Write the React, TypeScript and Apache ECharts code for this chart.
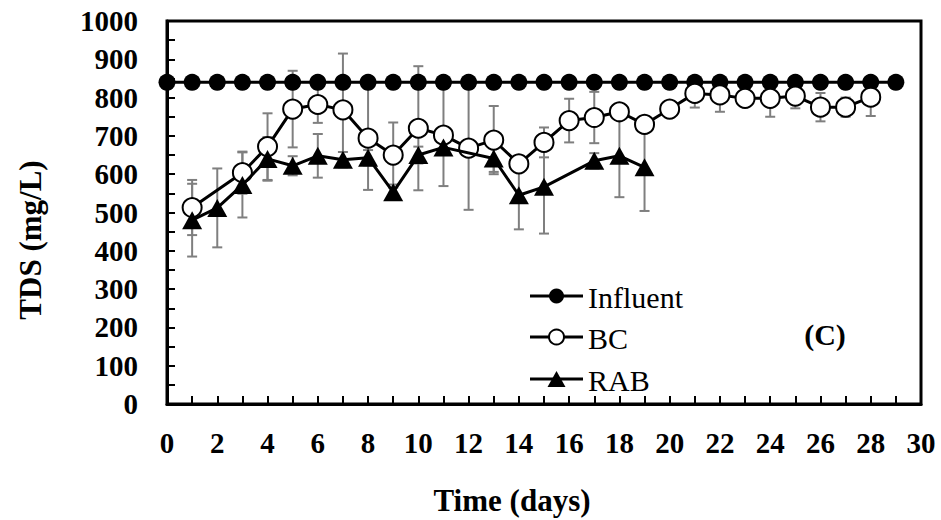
import React, { useEffect, useRef } from "react";
import * as echarts from "echarts";

const influentDays = [0, 1, 2, 3, 4, 5, 6, 7, 8, 9, 10, 11, 12, 13, 14, 15, 16, 17, 18, 19, 20, 21, 22, 23, 24, 25, 26, 27, 28, 29];
const influentValues = [840, 840, 840, 840, 840, 840, 840, 840, 840, 840, 840, 840, 840, 840, 840, 840, 840, 840, 840, 840, 840, 840, 840, 840, 840, 840, 840, 840, 840, 840];

const bcDays = [1, 3, 4, 5, 6, 7, 8, 9, 10, 11, 12, 13, 14, 15, 16, 17, 18, 19, 20, 21, 22, 23, 24, 25, 26, 27, 28];
const bcValues = [513, 604, 672, 770, 782, 768, 694, 650, 720, 702, 668, 689, 627, 683, 740, 748, 763, 730, 770, 811, 807, 798, 798, 804, 775, 775, 801];
const bcErrors = [72, 55, 87, 100, 48, 147, 135, 85, 162, 133, 161, 89, 0, 39, 57, 67, 0, 0, 0, 37, 44, 0, 48, 32, 37, 25, 49];

const rabDays = [1, 2, 3, 4, 5, 6, 7, 8, 9, 10, 11, 13, 14, 15, 17, 18, 19];
const rabValues = [480, 512, 572, 640, 622, 648, 638, 643, 553, 650, 670, 641, 545, 567, 635, 648, 618];
const rabErrors = [95, 103, 85, 57, 25, 57, 20, 20, 20, 22, 20, 35, 89, 122, 20, 108, 114];

const xTickValues = [0, 2, 4, 6, 8, 10, 12, 14, 16, 18, 20, 22, 24, 26, 28, 30];
const yTickValues = [0, 100, 200, 300, 400, 500, 600, 700, 800, 900, 1000];

const seriesNames = ["Influent", "BC", "RAB"];
const legendRowsY = [296, 337, 379];

const FONT = "'Liberation Serif', 'Times New Roman', serif";

function pairs(xs: number[], ys: number[]) {
  return xs.map((x, i) => [x, ys[i]]);
}

function errData(xs: number[], ys: number[], es: number[]) {
  return xs
    .map((x, i) => [x, ys[i] - es[i], ys[i] + es[i], es[i]])
    .filter((d) => d[3] > 0);
}

function legendIcon(kind: string, y: number) {
  const x0 = 530;
  const x1 = 583;
  const cx = (x0 + x1) / 2;
  const out: any[] = [
    { type: "line", shape: { x1: x0, y1: y, x2: x1, y2: y }, style: { stroke: "#000", lineWidth: 3 } },
  ];
  if (kind === "filled") {
    out.push({ type: "circle", shape: { cx, cy: y, r: 7.5 }, style: { fill: "#000" } });
  } else if (kind === "open") {
    out.push({ type: "circle", shape: { cx, cy: y, r: 7.5 }, style: { fill: "#fff", stroke: "#000", lineWidth: 2 } });
  } else {
    out.push({
      type: "polygon",
      shape: { points: [[cx, y - 8], [cx + 9, y + 8], [cx - 9, y + 8]] },
      style: { fill: "#000" },
    });
  }
  return out;
}

function legendText(name: string, y: number) {
  return {
    type: "text",
    z: -100,
    zlevel: 0,
    x: 588,
    y: y - 14,
    style: {
      text: name,
      fontFamily: "'Liberation Serif', serif",
      fontWeight: 400,
      fontSize: 30,
      fill: "#000",
    },
  };
}

export default function App() {
  const ref = useRef<HTMLDivElement>(null);

  useEffect(() => {
    if (!ref.current) return;
    const chart = echarts.init(ref.current, null, { renderer: "svg" });

    const renderErr = (params: any, api: any) => {
      const x = api.value(0);
      const lo = api.coord([x, api.value(1)]);
      const hi = api.coord([x, api.value(2)]);
      const w = 5;
      const style = { stroke: "#7f7f7f", lineWidth: 2 };
      return {
        type: "group",
        children: [
          { type: "line", shape: { x1: lo[0], y1: lo[1], x2: hi[0], y2: hi[1] }, style },
          { type: "line", shape: { x1: lo[0] - w, y1: lo[1], x2: lo[0] + w, y2: lo[1] }, style },
          { type: "line", shape: { x1: hi[0] - w, y1: hi[1], x2: hi[0] + w, y2: hi[1] }, style },
        ],
      };
    };

    const axisLabelStyle = {
      fontFamily: FONT,
      fontSize: 29,
      fontWeight: "bold" as const,
      color: "#000",
      formatter: (v: number) => String(v),
    };

    chart.setOption({
      animation: false,
      grid: {
        left: 167,
        right: 20,
        top: 21,
        bottom: 116,
        show: true,
        borderColor: "#000",
        borderWidth: 3,
        backgroundColor: "transparent",
      },
      xAxis: {
        type: "value",
        min: xTickValues[0],
        max: xTickValues[xTickValues.length - 1],
        interval: 2,
        axisLine: { show: true, lineStyle: { color: "#000", width: 3 } },
        axisTick: { show: true, inside: true, length: 8, lineStyle: { color: "#000", width: 2 } },
        minorTick: { show: true, splitNumber: 2, length: 8, lineStyle: { color: "#000", width: 2 } },
        splitLine: { show: false },
        axisLabel: { ...axisLabelStyle, margin: 24 },
      },
      yAxis: {
        type: "value",
        min: yTickValues[0],
        max: yTickValues[yTickValues.length - 1],
        interval: 100,
        axisLine: { show: true, lineStyle: { color: "#000", width: 3 } },
        axisTick: { show: true, inside: true, length: 8, lineStyle: { color: "#000", width: 2 } },
        minorTick: { show: true, splitNumber: 2, length: 8, lineStyle: { color: "#000", width: 2 } },
        splitLine: { show: false },
        axisLabel: { ...axisLabelStyle, margin: 29 },
      },
      graphic: [
        legendText(seriesNames[0], legendRowsY[0]),
        legendText(seriesNames[1], legendRowsY[1]),
        legendText(seriesNames[2], legendRowsY[2]),
        ...legendIcon("filled", legendRowsY[0]),
        ...legendIcon("open", legendRowsY[1]),
        ...legendIcon("tri", legendRowsY[2]),
        {
          type: "text",
          x: 512,
          y: 500,
          style: {
            text: "Time (days)",
            align: "center",
            verticalAlign: "middle",
            fontFamily: FONT,
            fontSize: 31,
            fontWeight: "bold",
            fill: "#000",
          },
        },
        {
          type: "text",
          x: 30,
          y: 240,
          rotation: Math.PI / 2,
          style: {
            text: "TDS (mg/L)",
            align: "center",
            verticalAlign: "middle",
            fontFamily: FONT,
            fontSize: 31,
            fontWeight: "bold",
            fill: "#000",
          },
        },
        {
          type: "text",
          x: 825,
          y: 334,
          style: {
            text: "(C)",
            align: "center",
            verticalAlign: "middle",
            fontFamily: FONT,
            fontSize: 30,
            fontWeight: "bold",
            fill: "#000",
          },
        },
      ],
      series: [
        {
          name: "BC error",
          type: "custom",
          z: 1,
          renderItem: renderErr,
          encode: { x: 0, y: [1, 2] },
          data: errData(bcDays, bcValues, bcErrors),
        },
        {
          name: "RAB error",
          type: "custom",
          z: 1,
          renderItem: renderErr,
          encode: { x: 0, y: [1, 2] },
          data: errData(rabDays, rabValues, rabErrors),
        },
        {
          name: seriesNames[0],
          type: "line",
          z: 3,
          data: pairs(influentDays, influentValues),
          symbol: "circle",
          symbolSize: 17,
          lineStyle: { color: "#000", width: 3 },
          itemStyle: { color: "#000", borderColor: "#000", borderWidth: 0 },
        },
        {
          name: seriesNames[1],
          type: "line",
          z: 4,
          data: pairs(bcDays, bcValues),
          symbol: "circle",
          symbolSize: 19,
          lineStyle: { color: "#000", width: 3 },
          itemStyle: { color: "#fff", borderColor: "#000", borderWidth: 2 },
        },
        {
          name: seriesNames[2],
          type: "line",
          z: 5,
          data: pairs(rabDays, rabValues),
          symbol: "triangle",
          symbolSize: [20, 18],
          lineStyle: { color: "#000", width: 3 },
          itemStyle: { color: "#000", borderColor: "#000", borderWidth: 0 },
        },
      ],
    });

    return () => chart.dispose();
  }, []);

  return (
    <div
      ref={ref}
      style={{ position: "fixed", left: 0, top: 0, width: 941, height: 520, background: "#fff" }}
    />
  );
}
